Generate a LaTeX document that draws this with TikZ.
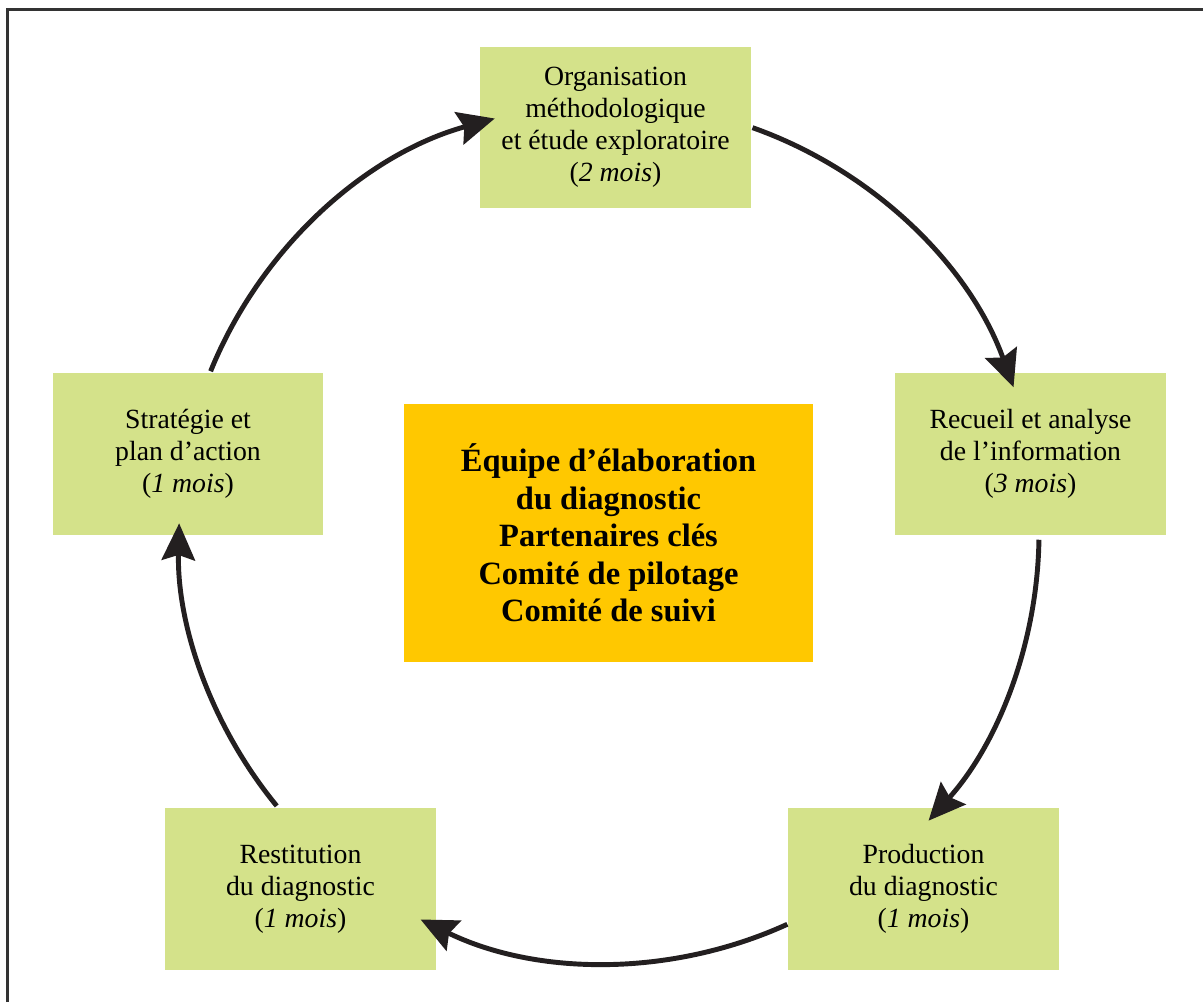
\documentclass[tikz,border=0pt]{standalone}
\usepackage{fontspec}
\setmainfont{Liberation Serif}
\usepackage{xcolor}
\usepackage{tikz}
\usetikzlibrary{arrows.meta}

\definecolor{stagegreen}{RGB}{212,226,138}
\definecolor{coreorange}{RGB}{255,200,0}
\definecolor{inkblack}{RGB}{35,31,32}

\begin{document}
\begin{tikzpicture}[x=0.02cm, y=0.02cm,
    stage/.style={fill=stagegreen, minimum width=5.42cm, minimum height=3.24cm,
        align=center, font=\fontsize{15.8}{18.2}\selectfont, inner sep=0pt},
    core/.style={fill=coreorange, minimum width=8.18cm, minimum height=5.16cm,
        align=center, font=\fontsize{18.5}{21.3}\selectfont\bfseries, inner sep=0pt},
    flow/.style={line width=2.8pt, inkblack, -{Stealth[length=21pt, width=19pt, inset=3pt]}}]
    \useasboundingbox (0,0) rectangle (1203,1002);

    % Frame
    \draw[line width=1.5pt, black!80] (7.5,0) |- (1203,992.5);

    % Centre of the cycle
    \coordinate (c) at (609,469);

    % Stages
    \node[stage] (orga) at (615.5,874.5) {Organisation\\méthodologique\\et étude exploratoire\\(\textit{2 mois})};
    \node[stage] (recueil) at (1030.5,548) {Recueil et analyse\\de l’information\\(\textit{3 mois})};
    \node[stage] (prod) at (923.5,113) {Production\\du diagnostic\\(\textit{1 mois})};
    \node[stage] (resti) at (300.5,113) {Restitution\\du diagnostic\\(\textit{1 mois})};
    \node[stage] (strat) at (188,548) {Stratégie et\\plan d’action\\(\textit{1 mois})};

    % Actors in the middle
    \node[core] (equipe) at (608.5,469) {Équipe d’élaboration\\du diagnostic\\Partenaires clés\\Comité de pilotage\\Comité de suivi};

    % Cycle arrows
    \draw[flow] ([shift={(70.5:430)}]c) arc[start angle=70.5, end angle=19.8, radius=8.6cm];
    \draw[flow] ([shift={(-0.9:430)}]c) arc[start angle=-0.9, end angle=-42, radius=8.6cm];
    \draw[flow] ([shift={(-65.5:430)}]c) arc[start angle=-65.5, end angle=-116, radius=8.6cm];
    \draw[flow] ([shift={(219.4:430)}]c) arc[start angle=219.4, end angle=178.7, radius=8.6cm];
    \draw[flow] ([shift={(157.9:430)}]c) arc[start angle=157.9, end angle=105.4, radius=8.6cm];
\end{tikzpicture}
\end{document}
